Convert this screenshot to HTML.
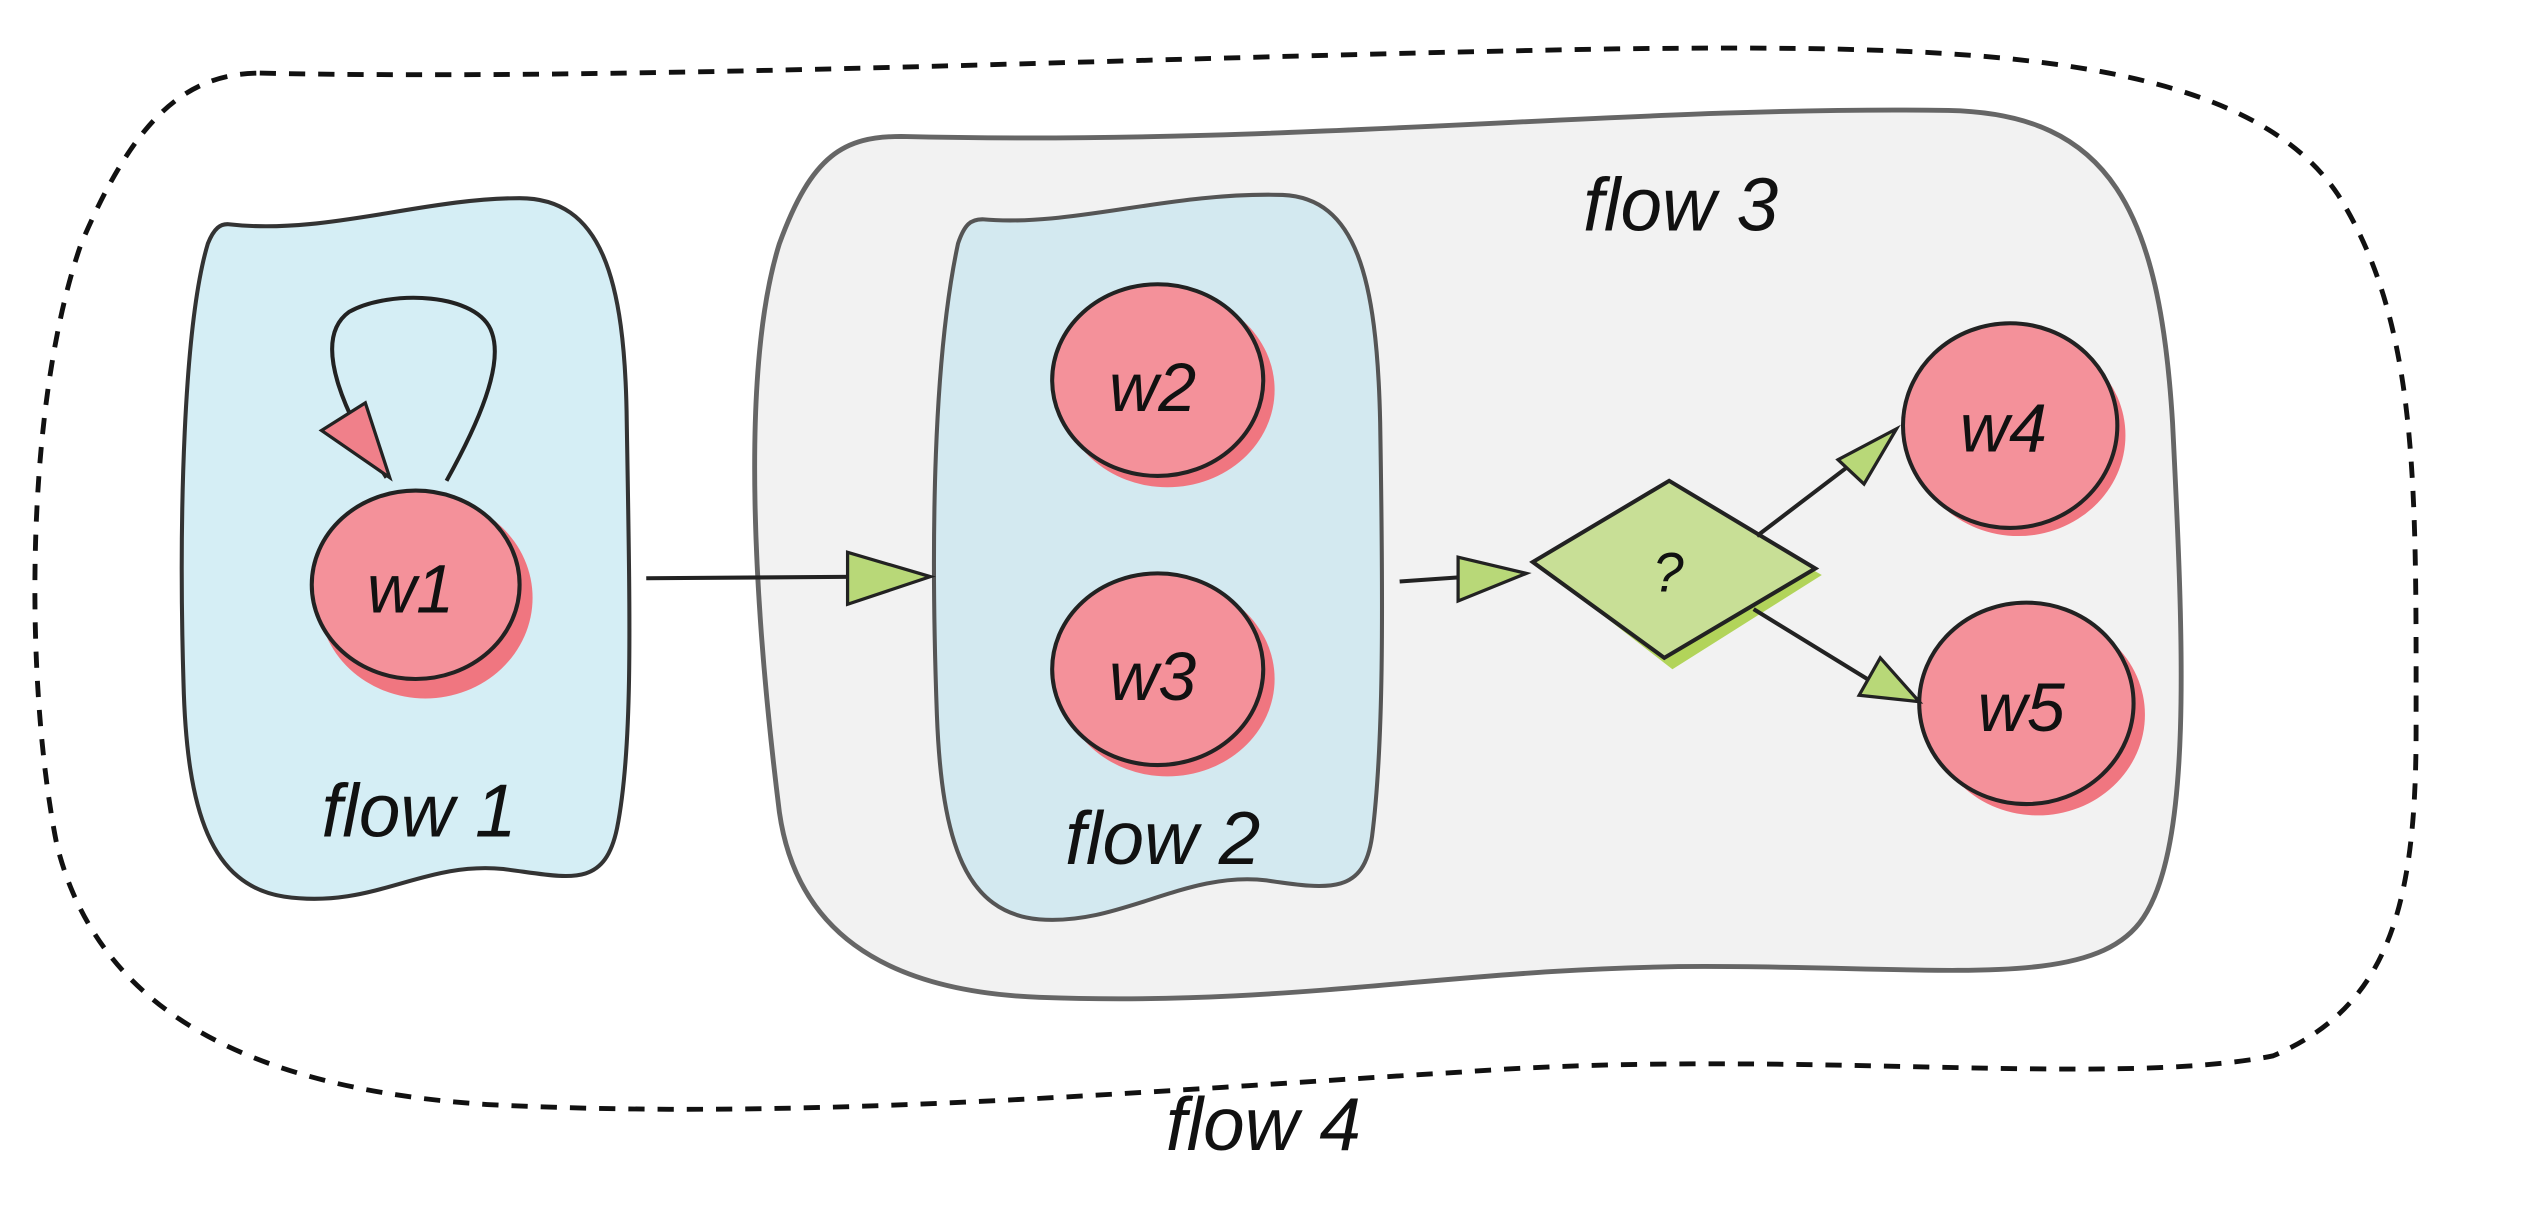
<!DOCTYPE html>
<html><head><meta charset="utf-8"><style>
html,body{margin:0;padding:0;background:#fff;width:2533px;height:1228px;overflow:hidden}
svg{display:block}
text{font-family:"Liberation Sans",sans-serif;font-style:italic;fill:#111}
</style></head><body>
<svg width="2533" height="1228" viewBox="0 0 1560 756" preserveAspectRatio="none" xmlns="http://www.w3.org/2000/svg">
<!-- flow 4 dashed -->
<path d="M160,45 C400,50 700,35 1000,30 C1200,28 1380,30 1440,120 C1490,200 1488,300 1488,450 C1488,560 1470,620 1400,650 C1300,670 1100,645 900,660 C700,672 500,690 300,680 C150,670 60,620 35,520 C15,420 15,250 50,150 C80,80 110,45 160,45 Z" fill="none" stroke="#111" stroke-width="3" stroke-dasharray="10,8"/>
<text x="718" y="708" font-size="46">flow 4</text>
<!-- flow 3 -->
<path d="M555,84 C800,90 1000,65 1200,68 C1300,70 1330,130 1338,260 C1345,400 1350,520 1320,565 C1290,610 1200,595 1050,595 C900,595 800,620 640,614 C540,610 490,570 480,500 C465,380 455,230 480,150 C500,95 520,84 555,84 Z" fill="#f2f2f2" stroke="#666" stroke-width="3"/>
<text x="975" y="142" font-size="46">flow 3</text>
<!-- flow 1 -->
<path d="M140,138 C200,145 260,122 320,122 C370,122 385,170 386,260 C388,380 390,460 380,510 C372,548 350,540 310,535 C260,530 230,560 175,552 C130,545 115,500 113,420 C110,320 113,200 128,150 C132,140 136,138 140,138 Z" fill="#d5eef5" stroke="#333" stroke-width="2.5"/>
<text x="198" y="515" font-size="46">flow 1</text>
<!-- flow 2 -->
<path d="M605,135 C660,140 720,118 790,120 C835,122 848,170 850,260 C852,380 852,460 845,515 C840,550 820,548 780,542 C730,536 690,570 640,566 C595,562 580,520 577,440 C573,330 575,220 590,150 C594,138 598,135 605,135 Z" fill="#d3e9f0" stroke="#555" stroke-width="2.5"/>
<text x="656" y="532" font-size="46">flow 2</text>
<!-- self loop -->
<path d="M238,294 C215,260 190,210 215,192 C240,178 295,180 303,205 C310,225 295,260 275,296" fill="none" stroke="#222" stroke-width="2.5"/>
<path d="M198,265 L225,248 L240,294 Z" fill="#f0808a" stroke="#222" stroke-width="2"/>
<!-- circles -->
<g>
<ellipse cx="262" cy="368" rx="66" ry="62" fill="#f07680"/>
<ellipse cx="256" cy="360" rx="64" ry="58" fill="#f4919a" stroke="#222" stroke-width="2.5"/>
<text x="226" y="377" font-size="42">w1</text>
<ellipse cx="719" cy="240" rx="66" ry="60" fill="#f07680"/>
<ellipse cx="713" cy="234" rx="65" ry="59" fill="#f4919a" stroke="#222" stroke-width="2.5"/>
<text x="683" y="253" font-size="42">w2</text>
<ellipse cx="719" cy="418" rx="66" ry="60" fill="#f07680"/>
<ellipse cx="713" cy="412" rx="65" ry="59" fill="#f4919a" stroke="#222" stroke-width="2.5"/>
<text x="683" y="431" font-size="42">w3</text>
<ellipse cx="1243" cy="268" rx="66" ry="62" fill="#f07680"/>
<ellipse cx="1238" cy="262" rx="66" ry="63" fill="#f4919a" stroke="#222" stroke-width="2.5"/>
<text x="1207" y="278" font-size="42">w4</text>
<ellipse cx="1255" cy="440" rx="66" ry="62" fill="#f07680"/>
<ellipse cx="1248" cy="433" rx="66" ry="62" fill="#f4919a" stroke="#222" stroke-width="2.5"/>
<text x="1218" y="450" font-size="42">w5</text>
</g>
<!-- arrows -->
<line x1="398" y1="356" x2="540" y2="355" stroke="#222" stroke-width="2.5"/>
<path d="M522,340 L573,355 L522,372 Z" fill="#b8d878" stroke="#222" stroke-width="2"/>
<line x1="862" y1="358" x2="905" y2="355" stroke="#222" stroke-width="2.5"/>
<path d="M898,343 L940,353 L898,370 Z" fill="#b8d878" stroke="#222" stroke-width="2"/>
<!-- diamond -->
<path d="M1030,302 L1122,354 L1030,412 L950,350 Z" fill="#b2d45a"/>
<path d="M1028,296 L1118,350 L1025,405 L944,346 Z" fill="#c8df96" stroke="#222" stroke-width="2.5"/>
<text x="1018" y="364" font-size="34">?</text>
<line x1="1082" y1="330" x2="1145" y2="282" stroke="#222" stroke-width="2.5"/>
<path d="M1132,283 L1168,264 L1148,298 Z" fill="#b8d878" stroke="#222" stroke-width="2"/>
<line x1="1080" y1="375" x2="1150" y2="418" stroke="#222" stroke-width="2.5"/>
<path d="M1145,428 L1182,432 L1158,405 Z" fill="#b8d878" stroke="#222" stroke-width="2"/>
</svg>
</body></html>
